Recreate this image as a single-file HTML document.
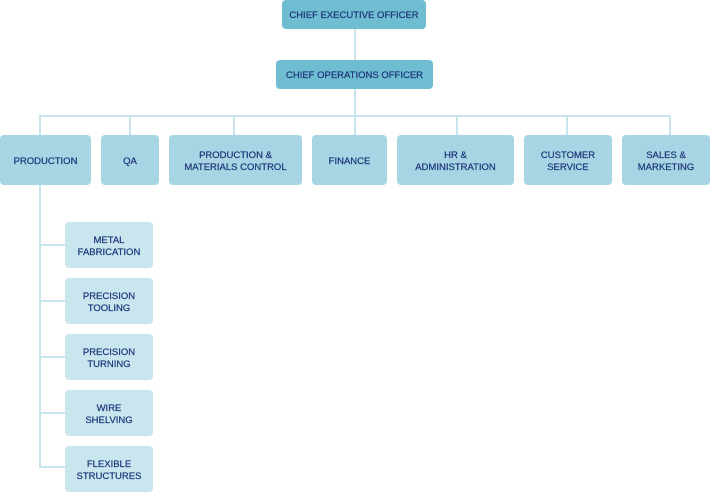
<!DOCTYPE html>
<html><head><style>
body{margin:0;width:710px;height:492px;background:#fff;position:relative;overflow:hidden;font-family:"Liberation Sans",sans-serif;}
.b{position:absolute;border-radius:4px;display:flex;align-items:center;justify-content:center;text-align:center;color:#1b3378;font-size:9.5px;line-height:12px;box-sizing:border-box;padding-top:3px;-webkit-text-stroke:0.2px #1b3378;}
.t{background:#6fbdd1;}
.l{background:#a7d5e3;}
.s{background:#c9e5ee;}
.h{position:absolute;background:#c9e4ec;}
</style></head><body>
<div class="h" style="left:354px;top:29px;width:2px;height:31px"></div>
<div class="h" style="left:354px;top:89px;width:2px;height:46px"></div>
<div class="h" style="left:39px;top:115px;width:632px;height:2px"></div>
<div class="h" style="left:39px;top:115px;width:2px;height:20px"></div>
<div class="h" style="left:129px;top:115px;width:2px;height:20px"></div>
<div class="h" style="left:233px;top:115px;width:2px;height:20px"></div>
<div class="h" style="left:456px;top:115px;width:2px;height:20px"></div>
<div class="h" style="left:566px;top:115px;width:2px;height:20px"></div>
<div class="h" style="left:669px;top:115px;width:2px;height:20px"></div>
<div class="h" style="left:39px;top:185px;width:2px;height:283px"></div>
<div class="h" style="left:39px;top:244px;width:26px;height:2px"></div>
<div class="h" style="left:39px;top:300px;width:26px;height:2px"></div>
<div class="h" style="left:39px;top:356px;width:26px;height:2px"></div>
<div class="h" style="left:39px;top:412px;width:26px;height:2px"></div>
<div class="h" style="left:39px;top:466px;width:26px;height:2px"></div>

<div class="b t" style="left:282px;top:0;width:144px;height:29px">CHIEF EXECUTIVE OFFICER</div>
<div class="b t" style="left:276px;top:60px;width:157px;height:29px">CHIEF OPERATIONS OFFICER</div>

<div class="b l" style="left:0;top:135px;width:91px;height:50px">PRODUCTION</div>
<div class="b l" style="left:101px;top:135px;width:58px;height:50px">QA</div>
<div class="b l" style="left:169px;top:135px;width:133px;height:50px">PRODUCTION &amp;<br>MATERIALS CONTROL</div>
<div class="b l" style="left:312px;top:135px;width:75px;height:50px">FINANCE</div>
<div class="b l" style="left:397px;top:135px;width:117px;height:50px">HR &amp;<br>ADMINISTRATION</div>
<div class="b l" style="left:524px;top:135px;width:88px;height:50px">CUSTOMER<br>SERVICE</div>
<div class="b l" style="left:622px;top:135px;width:88px;height:50px">SALES &amp;<br>MARKETING</div>

<div class="b s" style="left:65px;top:222px;width:88px;height:46px">METAL<br>FABRICATION</div>
<div class="b s" style="left:65px;top:278px;width:88px;height:46px">PRECISION<br>TOOLING</div>
<div class="b s" style="left:65px;top:334px;width:88px;height:46px">PRECISION<br>TURNING</div>
<div class="b s" style="left:65px;top:390px;width:88px;height:46px">WIRE<br>SHELVING</div>
<div class="b s" style="left:65px;top:446px;width:88px;height:46px">FLEXIBLE<br>STRUCTURES</div>
</body></html>
